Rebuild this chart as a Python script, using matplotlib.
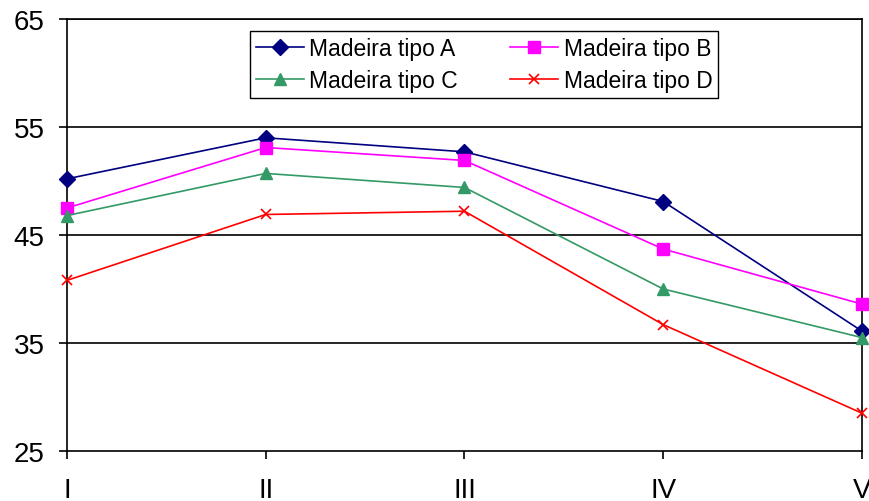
import numpy as np
import matplotlib
matplotlib.use('Agg')
import matplotlib.pyplot as plt

plt.rcParams['font.family'] = ['Liberation Sans', 'DejaVu Sans']

# dados
classes = ['I', 'II', 'III', 'IV', 'V']
tipo_a = [50.2, 54.0, 52.7, 48.1, 36.1]
tipo_b = [47.5, 53.1, 51.9, 43.7, 38.6]
tipo_c = [46.8, 50.7, 49.4, 40.0, 35.5]
tipo_d = [40.8, 46.9, 47.2, 36.7, 28.5]
yticks = [25, 35, 45, 55, 65]

fig = plt.figure(figsize=(8.7, 5.02), dpi=100)
ax = fig.add_axes([0.077, 0.0996, 0.9138, 0.8606])

x = np.arange(len(classes))

la, = ax.plot(x, tipo_a, color='#000080', marker='D', markersize=8, lw=1.2,
              label='Madeira tipo A', clip_on=False, zorder=5)
lb, = ax.plot(x, tipo_b, color='#FF00FF', marker='s', markersize=8, lw=1.2,
              label='Madeira tipo B', clip_on=False, zorder=5)
lc, = ax.plot(x, tipo_c, color='#339966', marker='^', markersize=9, lw=1.2,
              label='Madeira tipo C', clip_on=False, zorder=5)
ld, = ax.plot(x, tipo_d, color='#FF0000', marker='x', markersize=7, lw=1.2,
              markeredgewidth=1.2, label='Madeira tipo D', clip_on=False, zorder=5)

ax.set_xlim(0, 4)
ax.set_ylim(25, 65)
ax.set_xticks(x)
ax.set_xticklabels(classes)
ax.set_yticks(yticks)

for y in yticks[1:]:
    ax.axhline(y, color='black', lw=1.2, zorder=1)

for s in ax.spines.values():
    s.set_linewidth(1.2)

ax.tick_params(axis='both', labelsize=20, direction='out', length=6, width=1.2)
ax.tick_params(axis='y', pad=10)
ax.tick_params(axis='x', pad=13)

# ordem A, B / C, D nas linhas
leg = ax.legend([la, lc, lb, ld],
                ['Madeira tipo A', 'Madeira tipo C', 'Madeira tipo B', 'Madeira tipo D'],
                ncol=2, loc='lower left', bbox_to_anchor=(0.230, 0.817, 0.589, 0.160),
                mode='expand', borderaxespad=0, fontsize=16.5, fancybox=False,
                edgecolor='black', framealpha=1, handlelength=2.1,
                handletextpad=0.25, labelspacing=0.4, borderpad=0.25)
leg.get_frame().set_linewidth(1.0)

plt.savefig('out.png', dpi=100)
